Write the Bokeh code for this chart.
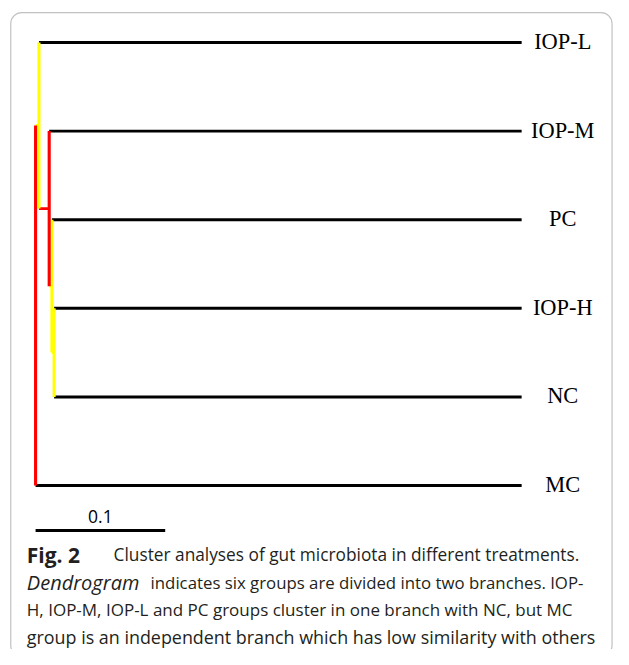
from bokeh.plotting import figure
from bokeh.models import Range1d, BoxAnnotation
from bokeh.core.properties import value
from bokeh.embed import file_html
from bokeh.resources import INLINE

# ---------------- data ----------------
leaves = ["IOP-L", "IOP-M", "PC", "IOP-H", "NC", "MC"]   # top to bottom
leaf_depth = 0.375                                        # distance root -> tips
# merges (indices >= 6 refer to earlier merges, in order)
merge_a = [3, 2, 1, 0, 9]
merge_b = [4, 6, 7, 8, 5]
merge_depth = [0.0143, 0.0126, 0.0105, 0.0026, 0.0]      # distance from root
merge_color = ["#FFFF00", "#FFFF00", "#FF0000", "#FFFF00", "#FF0000"]
scale_len = 0.1
scale_label = "0.1"
cap_bold = "Fig. 2"
cap_line1 = "Cluster analyses of gut microbiota in different treatments."
cap_italic = "Dendrogram"
cap_line2 = "indicates six groups are divided into two branches. IOP-"
cap_line3 = "H, IOP-M, IOP-L and PC groups cluster in one branch with NC, but MC"
cap_line4 = "group is an independent branch which has low similarity with others"

# ---------------- layout ----------------
W, H = 613, 649
RW, RH = 629, 665          # reference canvas that is mapped into the figure
UX = 1330.0                # reference pixels per unit distance
UY = 90.8                  # reference pixels per leaf step


def rx(ref_x):
    return (ref_x - 36) / UX


def ry(ref_y):
    return (ref_y - 43) / UY


p = figure(width=W, height=H, output_backend="svg", toolbar_location=None,
           x_range=Range1d(rx(0), rx(RW)), y_range=Range1d(ry(RH), ry(0)),
           x_axis_type=None, y_axis_type=None, min_border=0)
p.grid.visible = False
p.outline_line_color = None
p.background_fill_color = "white"

# node positions
n = len(leaves)
node_x = [leaf_depth] * n
node_y = list(range(n))
for a, b, d in zip(merge_a, merge_b, merge_depth):
    node_x.append(d)
    node_y.append((node_y[a] + node_y[b]) / 2)


def ncolor(i):
    return "black" if i < n else merge_color[i - n]


hx0, hx1, hy, hc = [], [], [], []
vx, vy0, vy1, vc = [], [], [], []
for m, (a, b, d) in enumerate(zip(merge_a, merge_b, merge_depth)):
    vx.append(d); vy0.append(node_y[a]); vy1.append(node_y[b]); vc.append(merge_color[m])
    for c in (a, b):
        hx0.append(d); hx1.append(node_x[c]); hy.append(node_y[c]); hc.append(ncolor(c))

p.segment(x0=hx0, y0=hy, x1=hx1, y1=hy, line_color=hc, line_width=2.9)
p.segment(x0=vx, y0=vy0, x1=vx, y1=vy1, line_color=vc, line_width=3.1)

# leaf labels
p.text(x=[leaf_depth + 0.0317] * n, y=list(range(n)), text=leaves,
       text_font=value("Liberation Serif"), text_font_size="22.4px",
       text_align="center", text_baseline="middle", text_color="black", y_offset=-1)

# scale bar
p.segment(x0=[0], y0=[ry(543)], x1=[scale_len], y1=[ry(543)], line_color="black", line_width=2.9)
p.text(x=[scale_len / 2], y=[ry(529)], text=[scale_label], text_font=value("Open Sans"),
       text_font_size="17.5px", text_align="center", text_baseline="middle", text_color="black")

# caption (y = middle of each line)
cap_font = value("Open Sans")
cap_col = "#231f20"
m1, m2, m3, m4 = 568, 596, 624, 652
p.text(x=[rx(27)], y=[ry(m1)], text=[cap_bold], text_font=cap_font, text_font_size="21px",
       text_font_style="bold", text_baseline="middle", text_color=cap_col)
p.text(x=[rx(116)], y=[ry(m1)], text=[cap_line1], text_font=cap_font, text_font_size="17.3px",
       text_baseline="middle", text_color=cap_col)
p.text(x=[rx(27)], y=[ry(m2)], text=[cap_italic], text_font=cap_font, text_font_size="20px",
       text_font_style="italic", text_baseline="middle", text_color=cap_col)
p.text(x=[rx(154)], y=[ry(m2)], text=[cap_line2], text_font=cap_font, text_font_size="16.8px",
       text_baseline="middle", text_color=cap_col)
p.text(x=[rx(27)], y=[ry(m3)], text=[cap_line3], text_font=cap_font, text_font_size="17px",
       text_baseline="middle", text_color=cap_col)
p.text(x=[rx(27)], y=[ry(m4)], text=[cap_line4], text_font=cap_font, text_font_size="17.9px",
       text_baseline="middle", text_color=cap_col)

# rounded border
p.add_layout(BoxAnnotation(left=rx(10.5), right=rx(627.5), top=ry(12.5), bottom=ry(672),
                           fill_alpha=0, line_color="#333333", line_width=1.2,
                           border_radius=11, editable=False))

open("out.html", "w").write(file_html(p, INLINE))
